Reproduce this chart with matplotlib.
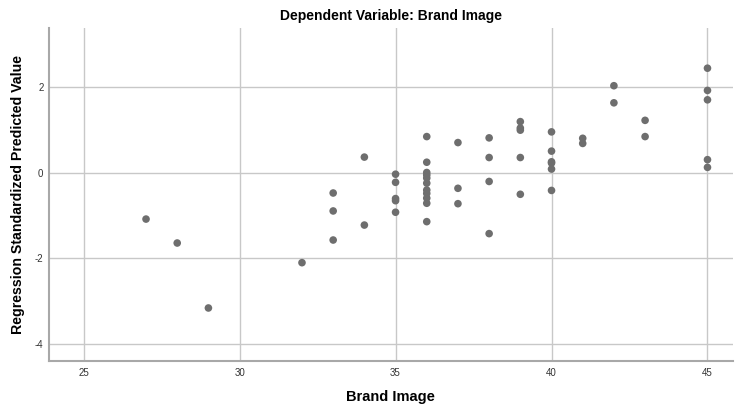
import matplotlib
matplotlib.use("Agg")
import matplotlib.pyplot as plt

# observed Brand Image vs standardized predicted value
brand_image = [27, 28, 29, 32,
               33, 33, 33,
               34, 34,
               35, 35, 35, 35, 35,
               36, 36, 36, 36, 36, 36, 36, 36, 36, 36, 36,
               37, 37, 37,
               38, 38, 38, 38,
               39, 39, 39, 39, 39,
               40, 40, 40, 40, 40, 40,
               41, 41,
               42, 42,
               43, 43,
               45, 45, 45, 45, 45]
predicted = [-1.08, -1.64, -3.16, -2.10,
             -0.47, -0.89, -1.57,
             0.37, -1.22,
             -0.03, -0.22, -0.60, -0.65, -0.92,
             0.85, 0.25, 0.01, -0.05, -0.12, -0.24, -0.40, -0.48, -0.59, -0.71, -1.14,
             0.71, -0.36, -0.72,
             0.82, 0.36, -0.20, -1.42,
             1.20, 1.05, 1.00, 0.36, -0.50,
             0.96, 0.51, 0.26, 0.23, 0.09, -0.41,
             0.81, 0.69,
             2.04, 1.64,
             1.23, 0.85,
             2.45, 1.93, 1.71, 0.31, 0.13]

x_ticks = [25, 30, 35, 40, 45]
y_ticks = [-4, -2, 0, 2]

plt.rcParams['font.family'] = ['Liberation Sans', 'DejaVu Sans']
plt.rcParams['axes.unicode_minus'] = False

fig = plt.figure(figsize=(7.36, 4.09), dpi=100)
ax = fig.add_axes([0.0666, 0.1174, 0.9294, 0.8141])

ax.scatter(brand_image, predicted, s=30, color='#6e6e6e', edgecolors='none', zorder=3)

ax.set_xlim(23.89, 45.82)
ax.set_ylim(-4.40, 3.39)
ax.set_xticks(x_ticks)
ax.set_yticks(y_ticks)
ax.grid(True, color='#c8c8c8', linewidth=1)
ax.set_axisbelow(True)
ax.tick_params(axis='x', length=0, labelsize=7, colors='#333333', pad=5)
ax.tick_params(axis='y', length=0, labelsize=7, colors='#333333', pad=4)

for side in ['top', 'right']:
    ax.spines[side].set_visible(False)
for side in ['left', 'bottom']:
    ax.spines[side].set_color('#a8a8a8')
    ax.spines[side].set_linewidth(1.5)

ax.set_title('Dependent Variable: Brand Image', fontsize=10, fontweight='bold', pad=6)
fig.text(0.53, 0.03, 'Brand Image', fontsize=10.5, fontweight='bold',
         ha='center', va='center')
fig.text(0.024, 0.525, 'Regression Standardized Predicted Value', fontsize=10.2,
         fontweight='bold', rotation=90, ha='center', va='center')

fig.savefig('out.png', dpi=100)
